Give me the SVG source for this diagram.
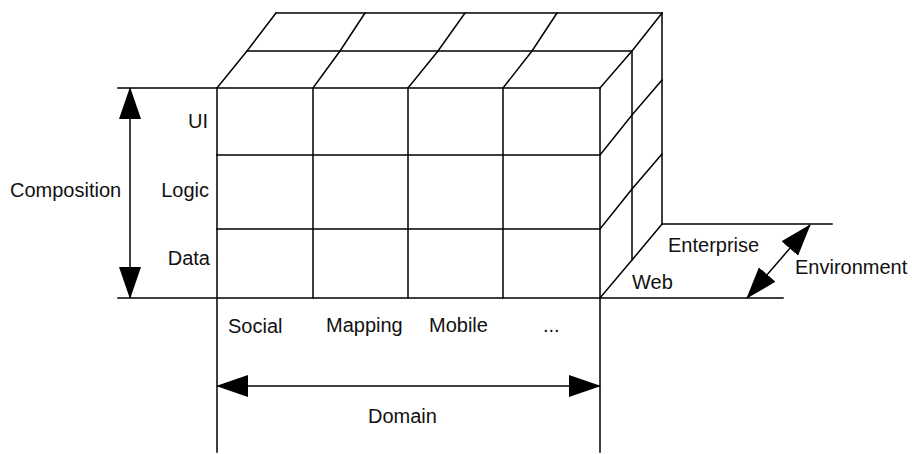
<svg xmlns="http://www.w3.org/2000/svg" width="912" height="454" viewBox="0 0 912 454">
<style>
.ln{stroke:#000;stroke-width:1.5;fill:none;stroke-linecap:square}
.lbl{font-family:"Liberation Sans",Arial,sans-serif;font-size:20px;fill:#111}
.end{text-anchor:end}
.arr{stroke:#000;stroke-width:1.5;fill:none;marker-start:url(#ah);marker-end:url(#ah)}
</style>
<defs>
<marker id="ah" markerUnits="userSpaceOnUse" markerWidth="32" markerHeight="22" refX="31" refY="11" orient="auto-start-reverse">
<path d="M0,0 L32,11 L0,22 z" fill="#000"/>
</marker>
</defs>
<rect width="912" height="454" fill="#fff"/>
<g id="front-face">
<path class="ln" d="M118,88 H600 M217,155 H600 M217,229 H600 M118,298 H783"/>
<path class="ln" d="M217,88 V452 M313,88 V298 M408,88 V298 M503,88 V298 M600,88 V452"/>
</g>
<g id="top-face">
<path class="ln" d="M247,51 H632 M276,13 H662"/>
<path class="ln" d="M217,88 L247,51 L276,13 M313,88 L340,51 L365,13 M408,88 L438,51 L465,13 M503,88 L532,51 L557,13 M600,88 L632,51 L662,13"/>
</g>
<g id="side-face">
<path class="ln" d="M632,51 V260 M662,13 V224"/>
<path class="ln" d="M600,155 L632,115 L662,80 M600,229 L632,189 L662,154 M600,298 L632,260 L662,224"/>
<path class="ln" d="M662,224 H832"/>
</g>
<g id="connectors">
<line class="arr" x1="130" y1="88" x2="130" y2="298"/>
<line class="arr" x1="217" y1="386" x2="600" y2="386"/>
<line class="arr" x1="747" y1="298" x2="810" y2="225"/>
</g>
<g id="composition-labels">
<text class="lbl" x="10" y="197">Composition</text>
<text class="lbl end" x="208" y="128">UI</text>
<text class="lbl end" x="209" y="197">Logic</text>
<text class="lbl end" x="210" y="265">Data</text>
</g>
<g id="domain-labels">
<text class="lbl" x="228" y="333">Social</text>
<text class="lbl" x="326" y="332">Mapping</text>
<text class="lbl" x="429" y="332">Mobile</text>
<text class="lbl" x="543" y="332">...</text>
<text class="lbl" x="368" y="423">Domain</text>
</g>
<g id="environment-labels">
<text class="lbl" x="668" y="252">Enterprise</text>
<text class="lbl" x="632" y="289">Web</text>
<text class="lbl" x="795" y="274">Environment</text>
</g>
</svg>
